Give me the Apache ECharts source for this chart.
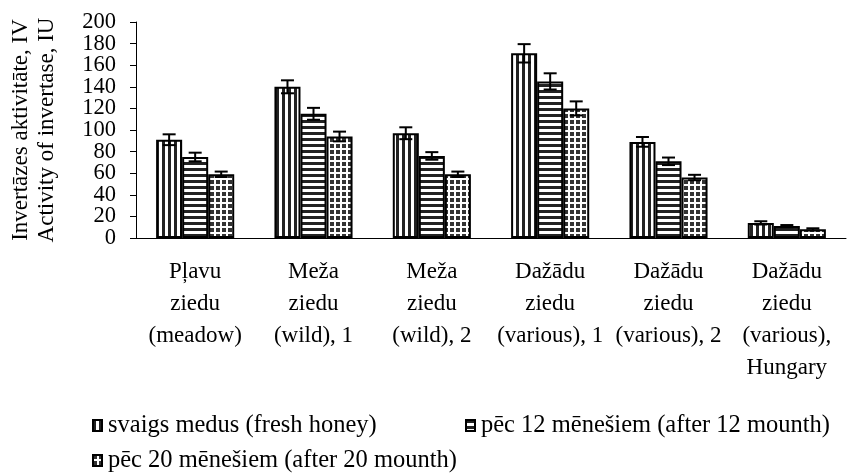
<!DOCTYPE html>
<html>
<head>
<meta charset="UTF-8">
<title></title>
<script src="https://cdn.jsdelivr.net/npm/echarts@6/dist/echarts.min.js"></script>
<style>
  html, body { margin: 0; padding: 0; background: #fff; }
  #chart { width: 847px; height: 473px; }
</style>
</head>
<body>
<div id="chart"></div>
<script>
var categories = [
  'Pļavu\nziedu\n(meadow)',
  'Meža\nziedu\n(wild), 1',
  'Meža\nziedu\n(wild), 2',
  'Dažādu\nziedu\n(various), 1',
  'Dažādu\nziedu\n(various), 2',
  'Dažādu\nziedu\n(various),\nHungary'
];
var seriesNames = [
  'svaigs medus (fresh honey)',
  'pēc 12 mēnešiem (after 12 mounth)',
  'pēc 20 mēnešiem (after 20 mounth)'
];
var freshVals = [91, 140, 97, 171, 89, 14];
var m12Vals = [75, 115, 76, 145, 71, 11];
var m20Vals = [59, 94, 59, 120, 56, 8];
var freshErr = [5, 6, 5.5, 8.5, 4.5, 1.5];
var m12Err = [4, 5.5, 3.5, 7.5, 3.5, 1];
var m20Err = [2.5, 4.5, 2.5, 6.5, 2.5, 1];
// y tick labels, split in two sets so echarts does not drop the packed ones
var yLabelsA = [0, 40, 80, 120, 160, 200];
var yLabelsB = [20, 60, 100, 140, 180];

var FONT = 'Liberation Serif';
var GAP = 0.34;

// fill patterns like the old b/w office charts
function pattern(kind) {
  var c = document.createElement('canvas');
  c.width = 6; c.height = 6;
  var g = c.getContext('2d');
  if (kind == 'grid') {
    g.fillStyle = '#333';
    g.fillRect(0, 0, 6, 6);
    g.fillStyle = '#fff';
    g.fillRect(4, 0, 2, 6);
    g.fillRect(0, 4, 6, 2);
  } else {
    g.fillStyle = '#fff';
    g.fillRect(0, 0, 6, 6);
    g.fillStyle = '#222';
    if (kind == 'v') g.fillRect(0, 0, 3, 6);
    else g.fillRect(0, 0, 6, 3);
  }
  return { image: c, repeat: 'repeat' };
}

function errData(vals, errs) {
  var out = [];
  for (var i = 0; i < vals.length; i++) {
    out.push([i, vals[i] - errs[i], vals[i] + errs[i]]);
  }
  return out;
}

function errSeries(vals, errs, k) {
  return {
    type: 'custom',
    name: 'err' + k,
    z: 5,
    data: errData(vals, errs),
    renderItem: function (params, api) {
      var band = api.size([1, 0])[0];
      var bw = band * (1 - GAP) / 3;
      var lo = api.coord([api.value(0), api.value(1)]);
      var hi = api.coord([api.value(0), api.value(2)]);
      var x = lo[0] + (k - 1) * bw;
      var cap = 6.5;
      var st = { stroke: '#000', lineWidth: 2 };
      return {
        type: 'group',
        children: [
          { type: 'line', shape: { x1: x, y1: lo[1], x2: x, y2: hi[1] }, style: st },
          { type: 'line', shape: { x1: x - cap, y1: lo[1], x2: x + cap, y2: lo[1] }, style: st },
          { type: 'line', shape: { x1: x - cap, y1: hi[1], x2: x + cap, y2: hi[1] }, style: st }
        ]
      };
    }
  };
}

function barSeries(name, vals, kind) {
  return {
    type: 'bar',
    name: name,
    data: vals,
    barGap: '0%',
    barCategoryGap: (GAP * 100) + '%',
    itemStyle: { color: pattern(kind), borderColor: '#000', borderWidth: 2 }
  };
}

function legendAt(name, left, top) {
  return {
    data: [name],
    left: left,
    top: top,
    padding: 0,
    icon: 'rect',
    itemWidth: 9,
    itemHeight: 11,
    itemGap: 4,
    selectedMode: false,
    textStyle: { fontFamily: FONT, fontSize: 24.5, color: '#000', padding: [0, 0, 0, 1] }
  };
}

function yLabelStyle(vals) {
  return {
    margin: 20,
    customValues: vals,
    fontFamily: FONT,
    fontSize: 22.5,
    color: '#000'
  };
}

var chart = echarts.init(document.getElementById('chart'));
var option = {
  animation: false,
  backgroundColor: '#fff',
  grid: { left: 135, right: 1, top: 22, bottom: 235 },
  legend: [
    legendAt(seriesNames[0], 92, 413),
    legendAt(seriesNames[1], 465, 413),
    legendAt(seriesNames[2], 92, 448)
  ],
  xAxis: {
    type: 'category',
    data: categories,
    axisLine: { lineStyle: { color: '#000', width: 1 } },
    axisTick: { length: 5, lineStyle: { color: '#000' } },
    axisLabel: {
      interval: 0,
      margin: 18,
      fontFamily: FONT,
      fontSize: 23,
      lineHeight: 32,
      color: '#000'
    }
  },
  yAxis: [{
    type: 'value',
    position: 'left',
    min: 0,
    max: 200,
    interval: 20,
    name: 'Invertāzes aktivitāte, IV\nActivity of invertase, IU',
    nameLocation: 'middle',
    nameRotate: 90,
    nameGap: 76,
    nameTextStyle: { fontFamily: FONT, fontSize: 23, lineHeight: 26, color: '#000' },
    axisLine: { show: true, lineStyle: { color: '#000', width: 1 } },
    axisTick: { show: true, length: 6, lineStyle: { color: '#000' } },
    splitLine: { show: false },
    axisLabel: yLabelStyle(yLabelsA)
  }, {
    type: 'value',
    position: 'left',
    min: 0,
    max: 200,
    interval: 20,
    axisLine: { show: false },
    axisTick: { show: false },
    splitLine: { show: false },
    axisLabel: yLabelStyle(yLabelsB)
  }],
  series: [
    barSeries(seriesNames[0], freshVals, 'v'),
    barSeries(seriesNames[1], m12Vals, 'h'),
    barSeries(seriesNames[2], m20Vals, 'grid'),
    errSeries(freshVals, freshErr, 0),
    errSeries(m12Vals, m12Err, 1),
    errSeries(m20Vals, m20Err, 2)
  ]
};
chart.setOption(option);
window.onresize = chart.resize;
</script>
</body>
</html>
